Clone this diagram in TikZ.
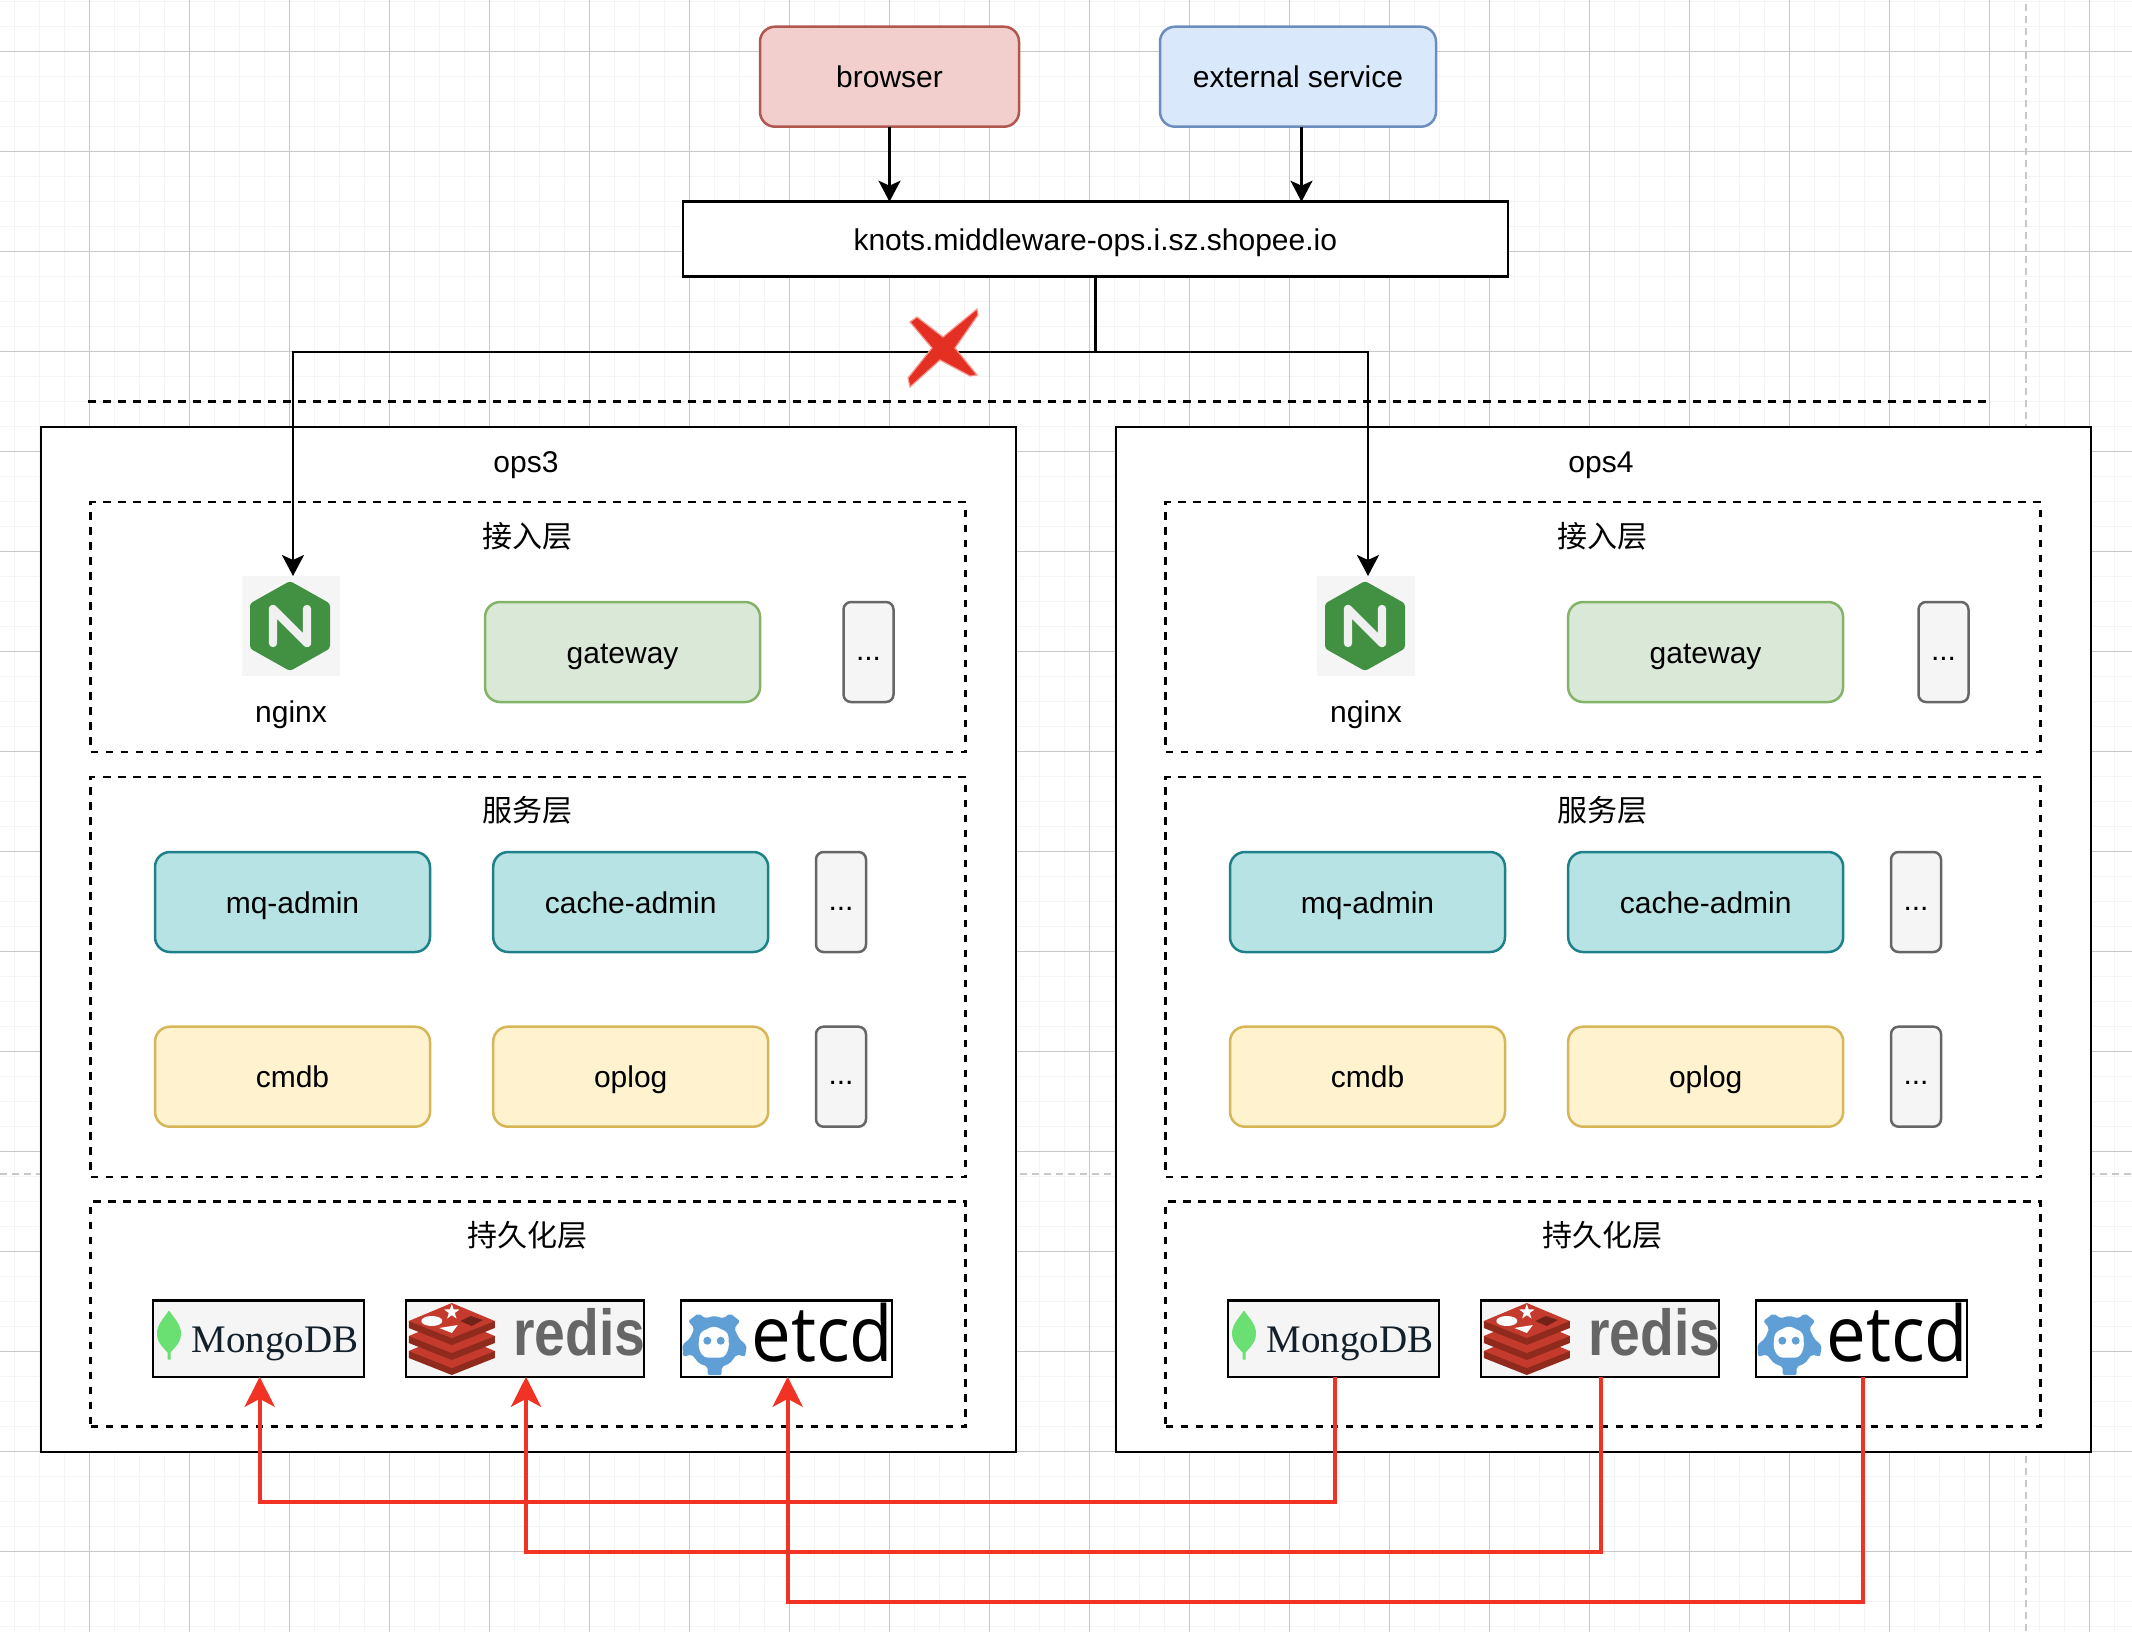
\documentclass[tikz,border=0pt]{standalone}
\usepackage{fontspec}
\setmainfont{Liberation Sans}
\newfontfamily\cjkfont{Noto Sans CJK SC}
\newfontfamily\logosans{Open Sans}
\newfontfamily\logoserif{Liberation Serif}
\usetikzlibrary{arrows.meta, positioning, calc}

\definecolor{gridminor}{HTML}{F4F4F4}
\definecolor{gridmajor}{HTML}{C8C8C8}
\definecolor{leafgreen}{HTML}{6ADF72}
\definecolor{mongoink}{HTML}{13202A}
\definecolor{nginxgreen}{HTML}{429142}
\definecolor{redislight}{HTML}{C43B2D}
\definecolor{redisdark}{HTML}{8F2A1C}
\definecolor{etcdblue}{HTML}{5F9FD6}
\definecolor{linkred}{HTML}{F03324}
\definecolor{browserfill}{HTML}{F2CFCC}
\definecolor{browserline}{HTML}{B0574F}
\definecolor{extfill}{HTML}{DAE8FC}
\definecolor{extline}{HTML}{6C8EBF}
\definecolor{gatefill}{HTML}{DAE8D8}
\definecolor{gateline}{HTML}{82B366}
\definecolor{adminfill}{HTML}{B8E3E4}
\definecolor{adminline}{HTML}{1E8088}
\definecolor{corefill}{HTML}{FFF2CF}
\definecolor{coreline}{HTML}{D6B656}

\tikzset{
    pics/mongologo/.style={code={
        \fill[leafgreen] (-89.5,-28) .. controls (-84,-20) and (-77.5,-14) .. (-77.5,-5) .. controls (-77.5,5) and (-85,10) .. (-88,14) -- (-88,21) -- (-91,21) -- (-91,14) .. controls (-94,10) and (-101.5,5) .. (-101.5,-5) .. controls (-101.5,-14) and (-95,-20) .. (-89.5,-28) -- cycle;
        \node[anchor=base west, inner sep=0pt, text=mongoink, font=\logoserif\fontsize{19.5}{20}\selectfont] (text) at (-66.8,14.2) {MongoDB};
    }},
    pics/redislogo/.style={code={
        \begin{scope}[shift={(-73,-17.5)}]
        \foreach \dy in {30,15,0} {
            \fill[redisdark] (-43,\dy) -- (-43,\dy+7) -- (0,\dy+24) -- (43,\dy+7) -- (43,\dy) -- cycle;
            \fill[redislight] (-43,\dy) -- (0,\dy-18) -- (43,\dy) -- (0,\dy+17) -- cycle;
        }
        \fill[white] (-20,0) ellipse [x radius=10.5, y radius=5];
        \fill[white] (0,-17) -- (1.9,-11.6) -- (7.6,-11.5) -- (3,-8) -- (4.7,-2.5) -- (0,-5.8) -- (-4.7,-2.5) -- (-3,-8) -- (-7.6,-11.5) -- (-1.9,-11.6) -- cycle;
        \fill[white] (-12.5,7) -- (6,4) -- (0,12) -- cycle;
        \fill[redisdark!80!black] (8.5,0) -- (19,-5) -- (31,-1) -- (20,5) -- cycle;
        \end{scope}
        \node[anchor=base west, inner sep=0pt, text=black!60, font=\bfseries\fontsize{32.5}{33}\selectfont] (text) at (-11.5,16.5) {\scalebox{.85}[1]{redis}};
    }},
    pics/etcdlogo/.style={code={
        \begin{scope}[shift={(-72.5,3.2)}]
        \fill[etcdblue, rounded corners=1pt] (0,-26) -- (9.3,-23.3) -- (16,-28.3) -- (26,-20.7) -- (20.3,-13.3) -- (25,-3.3) -- (32.7,4) -- (31,15) -- (22.7,12.7) -- (16,21.7) -- (7.7,25) -- (7.7,33.3) -- (-6.3,33.3) -- (-6.3,25) -- (-15,21.7) -- (-22.3,12.7) -- (-30.7,15) -- (-31.7,3.3) -- (-24,-3.3) -- (-19.7,-13.3) -- (-25.7,-20.7) -- (-15.7,-28.3) -- (-8.3,-23.3) -- cycle;
        \fill[white, rounded corners=2pt] (0,-16) -- (14.3,-9) -- (15,6.7) -- (10,16) -- (-10,16) -- (-15.7,6.7) -- (-14.3,-9) -- cycle;
        \foreach \ex in {-6.7,6.7} {
            \fill[etcdblue] (\ex,-1) circle [radius=4];
        }
        \end{scope}
        \node[anchor=base west, inner sep=0pt, font=\logosans\fontsize{38.5}{39}\selectfont] (text) at (-35,23) {\scalebox{.92}[1]{etcd}};
    }},
    pics/nginxlogo/.style={code={
        \fill[nginxgreen, rounded corners=1.5pt] (-1,-45) -- (39,-22.5) -- (39,22.5) -- (-1,45) -- (-41,22.5) -- (-41,-22.5) -- cycle;
        \draw[white!94!black, line width=4.2pt, line cap=round, line join=round] (-18,17) -- (-18,-17) -- (16,17) -- (16,-17);
    }}
}

\begin{document}
\begin{tikzpicture}[
    x=0.5pt, y=-0.5pt,
    font=\fontsize{15}{18}\selectfont,
    every node/.style={outer sep=0pt},
    basebox/.style={draw, line width=1.25pt, inner sep=0pt, text height=11pt, text depth=0pt},
    topbox/.style={basebox, rounded corners=7.5pt, minimum height=50pt},
    appbox/.style={topbox, minimum width=137.5pt},
    morebox/.style={basebox, rounded corners=3.75pt, draw=black!60, fill=black!4, minimum width=25pt, minimum height=50pt, text height=8pt},
    opsbox/.style={basebox, fill=white, minimum width=487.5pt, minimum height=512.5pt},
    layerbox/.style={basebox, dash pattern=on 3.75pt off 3.75pt, minimum width=437.5pt},
    dbbox/.style={basebox, minimum height=38.25pt},
    textlabel/.style={inner sep=0pt, text height=11pt, text depth=0pt},
    cjklabel/.style={inner sep=0pt},
    arrow/.style={-{Stealth[length=10.5pt, width=11pt, inset=2.5pt]}, line width=1.25pt},
    redarrow/.style={-{Stealth[length=15pt, width=15pt, inset=4pt]}, line width=2.1pt, linkred},
    pagebreak/.style={draw=gridmajor, line width=1pt, dash pattern=on 3.5pt off 2.5pt}
]
\useasboundingbox (0,0) rectangle (2132,1632);
\fill[white] (0,0) rectangle (2132,1632);

% === GRID ===
\foreach \gx in {14.3,39.3,...,2132} {
    \draw[gridminor, line width=.7pt] (\gx,0) -- (\gx,1632);
}
\foreach \gy in {1.3,26.3,...,1632} {
    \draw[gridminor, line width=.7pt] (0,\gy) -- (2132,\gy);
}
\foreach \gx in {89.3,189.3,...,2132} {
    \draw[gridmajor, line width=.5pt] (\gx,0) -- (\gx,1632);
}
\foreach \gy in {51.3,151.3,...,1632} {
    \draw[gridmajor, line width=.5pt] (0,\gy) -- (2132,\gy);
}
\draw[pagebreak] (2026,4) -- (2026,1632);
\draw[pagebreak] (0,1173.7) -- (2132,1173.7);

% === ENTRY ===
\node[topbox, fill=browserfill, draw=browserline, minimum width=129.5pt] (browser) at (889.5,76.7) {browser};
\node[topbox, fill=extfill, draw=extline, minimum width=138pt] (extsvc) at (1298,76.7) {external service};
\node[basebox, fill=white, minimum width=412.5pt, minimum height=37.5pt] (knots) at (1095.3,239.2) {knots.middleware-ops.i.sz.shopee.io};
\draw[line width=1.25pt, dash pattern=on 3.75pt off 3.75pt] (88,401.7) -- (1987,401.7);

% === HOSTS ===
\foreach \ox/\ops/\gw in {0/ops3/622.6, 1075/ops4/630.6} {
\begin{scope}[shift={(\ox,0)}]
    \node[opsbox] (\ops) at (528.5,939.5) {};
    \node[textlabel] (\ops-name) at (526,461) {\ops};

    % access layer
    \node[layerbox, minimum height=125pt] (\ops-access) at (528,627) {};
    \node[cjklabel] (\ops-accessname) at (527.3,536) {\cjkfont 接入层};
    \node[fill=black!4, inner sep=0pt, minimum width=49pt, minimum height=50pt] (\ops-nginx) at (291,626) {};
    \pic at (\ops-nginx.center) {nginxlogo};
    \node[textlabel] (\ops-nginxname) at (291,711) {nginx};
    \node[appbox, fill=gatefill, draw=gateline] (\ops-gateway) at (\gw,652) {gateway};
    \node[morebox] (\ops-moreaccess) at (868.5,652) {...};

    % service layer
    \node[layerbox, minimum height=200pt] (\ops-service) at (528,977) {};
    \node[cjklabel] (\ops-servicename) at (527.3,810) {\cjkfont 服务层};
    \node[appbox, fill=adminfill, draw=adminline] (\ops-mqadmin) at (292.5,902) {mq-admin};
    \node[appbox, fill=adminfill, draw=adminline] (\ops-cacheadmin) at (630.7,902) {cache-admin};
    \node[morebox] (\ops-moreadmin) at (841,902) {...};
    \node[appbox, fill=corefill, draw=coreline] (\ops-cmdb) at (292.5,1076.7) {cmdb};
    \node[appbox, fill=corefill, draw=coreline] (\ops-oplog) at (630.7,1076.7) {oplog};
    \node[morebox] (\ops-morecore) at (841,1076.7) {...};

    % storage layer
    \node[layerbox, minimum height=112.5pt] (\ops-storage) at (528,1314.2) {};
    \node[cjklabel] (\ops-storagename) at (527.3,1235) {\cjkfont 持久化层};
    \node[dbbox, fill=black!4, minimum width=105.5pt] (\ops-mongo) at (258.5,1338.5) {};
    \node[dbbox, fill=black!4, minimum width=119pt] (\ops-redis) at (524.8,1338.5) {};
    \node[dbbox, fill=white, minimum width=105.5pt] (\ops-etcd) at (786.5,1338.5) {};
    \pic (\ops-mongologo) at (\ops-mongo.center) {mongologo};
    \pic (\ops-redislogo) at (\ops-redis.center) {redislogo};
    \pic (\ops-etcdlogo) at (\ops-etcd.center) {etcdlogo};
\end{scope}
}

% === ARROWS ===
\draw[arrow] (browser.south) -- (browser.south |- knots.north);
\draw[arrow] ([xshift=1.75pt]extsvc.south) -- ([xshift=1.75pt]extsvc.south |- knots.north);
\coordinate (split) at (1095.3,352);
\draw[arrow] (knots.south) -- (split) -| ([xshift=1pt]ops3-nginx.north);
\draw[arrow] (split) -| ([xshift=1pt]ops4-nginx.north);

\foreach \db/\drop in {mongo/125, redis/175, etcd/225} {
    \draw[redarrow] ([xshift=.6pt]ops4-\db.south) -- ++(0,\drop) -| ([xshift=.6pt]ops3-\db.south);
}

% === CROSS ===
\fill[linkred!95!black, draw=linkred!50, line width=.6pt] (910,322) -- (917,317) -- (943,337) -- (977,309) -- (978,315) -- (955,348) -- (977,375) -- (970,376) -- (940,360) -- (910,387) -- (908,378) -- (932,348) -- cycle;

\end{tikzpicture}
\end{document}
